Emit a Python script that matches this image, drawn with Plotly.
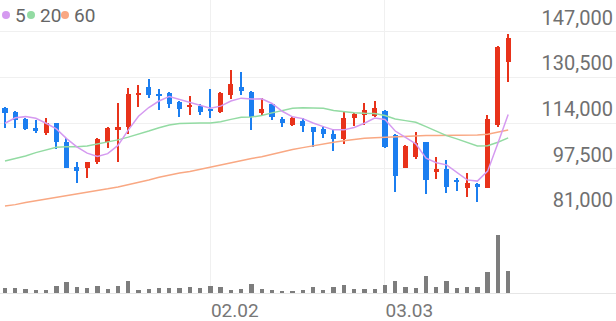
import plotly.graph_objects as go

dates = ["01.05","01.06","01.07","01.08","01.09","01.12","01.13","01.14","01.15","01.16",
         "01.19","01.20","01.21","01.22","01.23","01.26","01.27","01.28","01.29","01.30",
         "02.02","02.03","02.04","02.05","02.06","02.09","02.10","02.11","02.12","02.13",
         "02.19","02.20","02.23","02.24","02.25","02.26","02.27","03.03","03.04","03.05",
         "03.06","03.09","03.10","03.11","03.12","03.13","03.16","03.17","03.18","03.19"]

opens = [119500,117900,115300,112100,110300,113900,107300,98200,97600,99800,
         107300,111400,112600,124200,127100,124500,124700,121500,119800,120100,
         119100,117900,124100,127100,125100,117500,120700,115300,113300,114800,
         112700,111700,110000,108200,115700,116900,116700,118300,109700,97900,
         101600,107000,96200,97400,93400,90400,91800,90600,113300,135900]
highs = [119900,118300,115700,115100,115700,114100,108700,100000,100000,108500,
         112700,121100,126500,127700,129800,126200,125100,122000,123800,120700,
         126200,125300,133200,132600,125600,122900,121100,116300,116200,115900,
         112700,112900,111800,118300,117700,121100,122000,118700,110000,106100,
         110600,107000,101800,100600,94000,95800,92200,116900,142000,146000]
lows = [112100,112300,111400,110300,109700,104500,97600,92200,94000,99100,
        104800,100000,109900,119900,122900,118700,119300,116300,116900,116900,
        115700,117600,122700,124100,111500,116700,115100,112400,112900,110600,
        105400,108700,103900,106300,112900,113300,116100,105100,89200,97600,
        100900,88200,93600,88600,89400,87400,85600,90400,112700,128700]
closes = [117500,115100,111700,111100,114100,107300,97600,96800,99800,108200,
          112300,112400,124500,124700,124100,124000,120700,118900,120500,117900,
          118500,124700,128100,125700,116200,118900,116300,114100,115700,112900,
          110900,109900,108200,115700,117100,118700,119300,105400,95000,105800,
          106700,93400,97400,91000,93000,92400,91200,115400,141600,144600]

ma5 = [113900,115900,116300,115700,113900,111860,108360,105380,103120,101940,
       102940,105900,111440,116420,119600,121940,123600,122480,121640,120400,
       119300,120100,121940,122980,122640,122720,121040,118240,116240,115580,
       113980,112700,111520,111520,112360,113920,115800,115240,111100,108840,
       106440,101260,99660,98860,96300,93440,93000,96600,106720,117040]
ma20 = [100300,101200,102100,103300,104200,105200,105400,105400,105700,106400,
        107000,107900,108900,109900,111100,112300,113300,113800,114000,113960,
        114010,114490,115310,116040,116145,116725,117660,118525,119320,119555,
        119485,119360,118545,118095,117745,117480,117410,116735,115460,114855,
        114265,112700,111165,109430,108270,106945,105690,105755,107050,108635]
ma60 = [84000,84500,85300,85900,86500,87100,87600,88200,88800,89500,
        90200,90900,91700,92600,93400,94400,95200,95900,96500,97300,
        98100,98800,99700,100500,101200,101800,102700,103500,104400,105100,
        105800,106400,107000,107600,108100,108500,108700,108900,109100,109200,
        109400,109500,109500,109500,109700,109700,109700,109900,110600,111500]
volume = [150,150,110,80,80,220,330,170,150,220,
          120,210,360,100,120,150,150,160,190,150,
          220,170,100,120,280,130,80,60,60,80,
          170,80,190,230,130,130,120,240,370,190,
          140,520,180,370,140,180,180,630,1730,660]

price_ticks = [81000, 97500, 114000, 130500, 147000]
price_tick_text = ["81,000", "97,500", "114,000", "130,500", "147,000"]
date_ticks = ["02.02", "03.03"]

RED = "#e8321a"
BLUE = "#1b7ef0"
MA_COLORS = {"5": "#d59af0", "20": "#93dba3", "60": "#f9a883"}

fig = go.Figure()

fig.add_trace(go.Scatter(x=dates, y=ma60, mode="lines", line=dict(color=MA_COLORS["60"], width=1.5),
                         hoverinfo="skip", showlegend=False))
fig.add_trace(go.Scatter(x=dates, y=ma20, mode="lines", line=dict(color=MA_COLORS["20"], width=1.5),
                         hoverinfo="skip", showlegend=False))
fig.add_trace(go.Scatter(x=dates, y=ma5, mode="lines", line=dict(color=MA_COLORS["5"], width=1.5),
                         hoverinfo="skip", showlegend=False))

colors = [RED if c >= o else BLUE for o, c in zip(opens, closes)]
wick_base = lows
wick_len = [h - l for h, l in zip(highs, lows)]
body_base = [min(o, c) for o, c in zip(opens, closes)]
body_len = [max(abs(c - o), 250) for o, c in zip(opens, closes)]

fig.add_trace(go.Bar(x=dates, y=wick_len, base=wick_base, width=0.13,
                     marker=dict(color=colors, line=dict(width=0)), showlegend=False))
fig.add_trace(go.Bar(x=dates, y=body_len, base=body_base, width=0.5,
                     marker=dict(color=colors, line=dict(width=0)), showlegend=False))

fig.add_trace(go.Bar(x=dates, y=volume, width=0.42, xaxis="x2", yaxis="y2",
                     marker=dict(color="#7d7d7d", line=dict(width=0)), showlegend=False))

H = 321.0
grid = "#f0f0f0"
axis_font = dict(family="Roboto, sans-serif", size=20, color="#707070")
xr = [-0.487, 59.5]

fig.update_layout(
    width=616, height=321, autosize=False,
    margin=dict(l=0, r=0, t=0, b=0),
    paper_bgcolor="white", plot_bgcolor="white",
    barmode="overlay", bargap=0,
    xaxis=dict(type="category", categoryorder="array", categoryarray=dates, range=xr,
               domain=[0, 1], anchor="y", showticklabels=False, showgrid=True, gridcolor=grid,
               tickvals=date_ticks, zeroline=False, showline=False, fixedrange=True),
    yaxis=dict(domain=[(H - 214.3) / H, 1], range=[81000, 158456], side="right",
               tickvals=price_ticks, ticktext=price_tick_text, ticklabelposition="inside top",
               tickfont=axis_font, showgrid=True, gridcolor=grid, zeroline=False,
               showline=False, ticks=""),
    xaxis2=dict(type="category", categoryorder="array", categoryarray=dates, range=xr,
                domain=[0, 1], anchor="y2", matches="x", showgrid=True, gridcolor=grid,
                tickvals=date_ticks, ticktext=date_ticks, ticklabelposition="outside right",
                tickfont=dict(family="Roboto, sans-serif", size=19, color="#777777"),
                showline=True, linecolor="#e6e6e6", linewidth=1,
                zeroline=False, ticks=""),
    yaxis2=dict(domain=[(H - 293.3) / H, (H - 214.3) / H], range=[0, 2373], anchor="x2",
                showticklabels=False, showgrid=False, zeroline=False, showline=False),
    showlegend=False,
)

# legend: dots + labels
legend_items = [("5", 6, 13), ("20", 31, 38), ("60", 65, 72)]
for name, cx, tx in legend_items:
    fig.add_shape(type="circle", xref="paper", yref="paper",
                  x0=(cx - 4) / 616, x1=(cx + 4) / 616, y0=(H - 19) / H, y1=(H - 11) / H,
                  fillcolor=MA_COLORS[name], line=dict(width=0))
    fig.add_annotation(text=name, xref="paper", yref="paper", x=tx / 616, y=(H - 15) / H,
                       xanchor="left", yanchor="middle", showarrow=False,
                       font=dict(family="Roboto, sans-serif", size=19, color="#666666"))

fig.write_html("out.html")
